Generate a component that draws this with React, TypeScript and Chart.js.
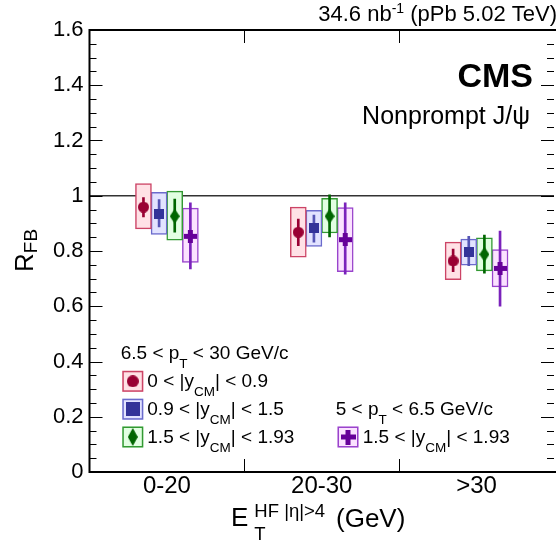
import React, { useEffect, useRef } from 'react';
import { Chart, registerables } from 'chart.js';

Chart.register(...registerables);

// ---------------- data ----------------
const categories = ['0-20', '20-30', '>30'];
const ptBinLabels = ['6.5 < p_{T} < 30 GeV/c', '5 < p_{T} < 6.5 GeV/c'];
const seriesLabels = [
  '0 < |y_{CM}| < 0.9',
  '0.9 < |y_{CM}| < 1.5',
  '1.5 < |y_{CM}| < 1.93',
  '1.5 < |y_{CM}| < 1.93',
];

// 6.5 < pT < 30, 0 < |y| < 0.9
const rfbY0 = [0.959, 0.868, 0.764];
const statLoY0 = [0.923, 0.819, 0.725];
const statHiY0 = [0.993, 0.916, 0.807];
const sysLoY0 = [0.88, 0.778, 0.696];
const sysHiY0 = [1.044, 0.959, 0.832];

// 6.5 < pT < 30, 0.9 < |y| < 1.5
const rfbY1 = [0.935, 0.882, 0.797];
const statLoY1 = [0.887, 0.832, 0.747];
const statHiY1 = [0.986, 0.93, 0.853];
const sysLoY1 = [0.86, 0.817, 0.749];
const sysHiY1 = [1.012, 0.947, 0.843];

// 6.5 < pT < 30, 1.5 < |y| < 1.93
const rfbY2 = [0.926, 0.926, 0.788];
const statLoY2 = [0.868, 0.851, 0.72];
const statHiY2 = [0.988, 1.003, 0.858];
const sysLoY2 = [0.839, 0.865, 0.728];
const sysHiY2 = [1.017, 0.991, 0.848];

// 5 < pT < 6.5, 1.5 < |y| < 1.93
const rfbY3 = [0.853, 0.841, 0.737];
const statLoY3 = [0.735, 0.716, 0.6];
const statHiY3 = [0.974, 0.974, 0.872];
const sysLoY3 = [0.759, 0.725, 0.67];
const sysHiY3 = [0.955, 0.957, 0.805];

const yMin = 0;
const yMax = 1.6;
const yStep = 0.2;
const refValue = 1;

// ---------------- styles ----------------
const FONT = '"Liberation Sans", Arial, Helvetica, sans-serif';
const markerKinds = ['circle', 'square', 'diamond', 'plus'];
const markerColors = ['#990033', '#333399', '#006600', '#660099'];
const boxFills = ['#ffe1e6', '#e2e3ff', '#e2ffe2', '#fbe2ff'];
const boxBorders = ['#cc4466', '#6b6bcc', '#339933', '#9944cc'];
const errColors = ['#990033', '#5555b5', '#006600', '#7a22bb'];
const seriesOffsets = [-1.5, -0.5, 0.5, 1.5];
const OFFSET_UNIT = 0.101;
const plotMarkerSizes: [number, number][] = [[11, 11], [10, 10], [10, 15], [13, 13]];
const legendMarkerSizes: [number, number][] = [[12, 12], [14, 14], [10, 18], [15, 15]];

function makeMarker(kind: string, color: string, w: number, h: number): HTMLCanvasElement {
  const c = document.createElement('canvas');
  c.width = w;
  c.height = h;
  const g = c.getContext('2d')!;
  g.fillStyle = color;
  if (kind === 'circle') {
    g.beginPath();
    g.arc(w / 2, h / 2, w / 2, 0, Math.PI * 2);
    g.fill();
  } else if (kind === 'square') {
    g.fillRect(0, 0, w, h);
  } else if (kind === 'diamond') {
    g.beginPath();
    g.moveTo(w / 2, 0);
    g.lineTo(w, h / 2);
    g.lineTo(w / 2, h);
    g.lineTo(0, h / 2);
    g.closePath();
    g.fill();
  } else {
    const t = Math.round(w * 0.36);
    g.fillRect((w - t) / 2, 0, t, h);
    g.fillRect(0, (h - t) / 2, w, t);
  }
  return c;
}

type Part = { t: string; kind: 'n' | 'sub' | 'sup' };
function parseRich(s: string): Part[] {
  const out: Part[] = [];
  let buf = '';
  let i = 0;
  while (i < s.length) {
    if ((s[i] === '_' || s[i] === '^') && s[i + 1] === '{') {
      if (buf) {
        out.push({ t: buf, kind: 'n' });
        buf = '';
      }
      const end = s.indexOf('}', i + 2);
      out.push({ t: s.slice(i + 2, end), kind: s[i] === '_' ? 'sub' : 'sup' });
      i = end + 1;
    } else {
      buf += s[i];
      i++;
    }
  }
  if (buf) out.push({ t: buf, kind: 'n' });
  return out;
}

type RichStyle = { size: number; scriptSize: number; subDy: number; supDy: number; bold?: boolean; scriptGap?: number };

function drawRich(ctx: CanvasRenderingContext2D, s: string, x: number, y: number, st: RichStyle, align: 'left' | 'right' = 'left') {
  const parts = parseRich(s);
  const font = (sz: number) => `${st.bold ? 'bold ' : ''}${sz}px ${FONT}`;
  let cx = 0;
  let prev: { start: number; width: number; kind: string } | null = null;
  const items: { t: string; kind: string; x: number; sz: number }[] = [];
  for (const p of parts) {
    const sz = p.kind === 'n' ? st.size : st.scriptSize;
    ctx.font = font(sz);
    const w = ctx.measureText(p.t).width;
    if (p.kind === 'n') {
      items.push({ t: p.t, kind: p.kind, x: cx, sz });
      cx += w;
      prev = null;
    } else if (prev && prev.kind !== p.kind) {
      items.push({ t: p.t, kind: p.kind, x: prev.start, sz });
      cx = prev.start + Math.max(prev.width, w);
      prev = null;
    } else {
      const start = cx + (st.scriptGap ?? 0);
      items.push({ t: p.t, kind: p.kind, x: start, sz });
      cx = start + w;
      prev = { start, width: w, kind: p.kind };
    }
  }
  const x0 = align === 'right' ? x - cx : x;
  ctx.textAlign = 'left';
  ctx.textBaseline = 'alphabetic';
  for (const it of items) {
    ctx.font = font(it.sz);
    const dy = it.kind === 'sub' ? st.subDy : it.kind === 'sup' ? st.supDy : 0;
    ctx.fillText(it.t, x0 + it.x, y + dy);
  }
  return cx;
}

export default function App() {
  const canvasRef = useRef<HTMLCanvasElement>(null);

  useEffect(() => {
    document.body.style.margin = '0';
    const canvas = canvasRef.current;
    if (!canvas) return;

    const series = [
      { val: rfbY0, statLo: statLoY0, statHi: statHiY0, sysLo: sysLoY0, sysHi: sysHiY0 },
      { val: rfbY1, statLo: statLoY1, statHi: statHiY1, sysLo: sysLoY1, sysHi: sysHiY1 },
      { val: rfbY2, statLo: statLoY2, statHi: statHiY2, sysLo: sysLoY2, sysHi: sysHiY2 },
      { val: rfbY3, statLo: statLoY3, statHi: statHiY3, sysLo: sysLoY3, sysHi: sysHiY3 },
    ];

    const plotMarkers = markerKinds.map((k, i) => makeMarker(k, markerColors[i], plotMarkerSizes[i][0], plotMarkerSizes[i][1]));
    const legendMarkers = markerKinds.map((k, i) => makeMarker(k, markerColors[i], legendMarkerSizes[i][0], legendMarkerSizes[i][1]));

    const datasets: any[] = [];
    series.forEach((s, si) => {
      const xs = categories.map((_, i) => i + seriesOffsets[si] * OFFSET_UNIT);
      datasets.push({
        type: 'bar',
        data: xs.map((x, i) => ({ x, y: [s.sysLo[i], s.sysHi[i]] })),
        backgroundColor: boxFills[si],
        borderColor: boxBorders[si],
        borderWidth: 1.5,
        borderSkipped: false,
        barThickness: 16,
        grouped: false,
        order: 3,
      });
      datasets.push({
        type: 'bar',
        data: xs.map((x, i) => ({ x, y: [s.statLo[i], s.statHi[i]] })),
        backgroundColor: errColors[si],
        borderWidth: 0,
        barThickness: 2,
        grouped: false,
        order: 2,
      });
      datasets.push({
        type: 'scatter',
        data: xs.map((x, i) => ({ x, y: s.val[i] })),
        pointStyle: plotMarkers[si],
        pointRadius: 5,
        order: 1,
      });
    });

    const overlay = {
      id: 'overlay',
      beforeDatasetsDraw(chart: any) {
        const ctx: CanvasRenderingContext2D = chart.ctx;
        const { left, right } = chart.chartArea;
        const y = chart.scales.y.getPixelForValue(refValue);
        ctx.save();
        ctx.strokeStyle = '#333';
        ctx.lineWidth = 1.5;
        ctx.beginPath();
        ctx.moveTo(left, y);
        ctx.lineTo(right, y);
        ctx.stroke();
        ctx.restore();
      },
      afterDraw(chart: any) {
        const ctx: CanvasRenderingContext2D = chart.ctx;
        const { left, right, top, bottom } = chart.chartArea;
        const ys = chart.scales.y;
        const xs = chart.scales.x;
        ctx.save();
        // ticks
        ctx.strokeStyle = '#000';
        ctx.lineWidth = 1;
        const nMinor = Math.round((yMax - yMin) / (yStep / 4));
        for (let i = 0; i <= nMinor; i++) {
          const v = yMin + (i * yStep) / 4;
          const py = Math.round(ys.getPixelForValue(v)) + 0.5;
          const len = i % 4 === 0 ? 13 : 7;
          ctx.beginPath();
          ctx.moveTo(left, py);
          ctx.lineTo(left + len, py);
          ctx.moveTo(right, py);
          ctx.lineTo(right - len, py);
          ctx.stroke();
        }
        for (let i = 0; i < categories.length - 1; i++) {
          const px = Math.round(xs.getPixelForValue(i + 0.5)) + 0.5;
          ctx.beginPath();
          ctx.moveTo(px, bottom);
          ctx.lineTo(px, bottom - 13);
          ctx.moveTo(px, top);
          ctx.lineTo(px, top + 13);
          ctx.stroke();
        }
        // frame
        ctx.lineWidth = 2;
        ctx.beginPath();
        ctx.moveTo(right + 2, top);
        ctx.lineTo(left, top);
        ctx.lineTo(left, bottom);
        ctx.lineTo(right + 2, bottom);
        ctx.stroke();

        ctx.fillStyle = '#000';
        // header
        drawRich(ctx, '34.6 nb^{-1} (pPb 5.02 TeV)', 557, 21, { size: 22, scriptSize: 14, subDy: 6, supDy: -8 }, 'right');
        // CMS
        drawRich(ctx, 'CMS', 533, 87, { size: 34, scriptSize: 20, subDy: 0, supDy: 0, bold: true }, 'right');
        drawRich(ctx, 'Nonprompt J/ψ', 530, 124, { size: 25, scriptSize: 16, subDy: 0, supDy: 0 }, 'right');

        // x title
        drawRich(ctx, 'E_{T}^{HF |η|>4}', 231, 526, { size: 26, scriptSize: 18.5, subDy: 14, supDy: -9, scriptGap: 6 });
        drawRich(ctx, '(GeV)', 336, 527, { size: 26, scriptSize: 17, subDy: 0, supDy: 0 });

        // y title
        ctx.save();
        ctx.translate(33, 272);
        ctx.rotate(-Math.PI / 2);
        drawRich(ctx, 'R_{FB}', 0, 0, { size: 26, scriptSize: 19, subDy: 4, supDy: -8 });
        ctx.restore();

        // legend
        const legStyle = { size: 19, scriptSize: 13.5, subDy: 9, supDy: -7 };
        ctx.fillStyle = '#000';
        drawRich(ctx, ptBinLabels[0], 120.7, 359.3, legStyle);
        drawRich(ctx, ptBinLabels[1], 335.7, 415, legStyle);
        const entries = [
          { si: 0, sx: 132.8, sy: 381.3, tx: 147.3, ty: 387.3 },
          { si: 1, sx: 132.8, sy: 409.2, tx: 147.3, ty: 415 },
          { si: 2, sx: 132.8, sy: 437, tx: 147.3, ty: 442.7 },
          { si: 3, sx: 348, sy: 437, tx: 362.7, ty: 442.7 },
        ];
        for (const e of entries) {
          const s = 21;
          ctx.fillStyle = boxFills[e.si];
          ctx.fillRect(e.sx - s / 2, e.sy - s / 2, s, s);
          ctx.strokeStyle = boxBorders[e.si];
          ctx.lineWidth = 1.5;
          ctx.strokeRect(e.sx - s / 2 + 0.75, e.sy - s / 2 + 0.75, s - 1.5, s - 1.5);
          const m = legendMarkers[e.si];
          ctx.drawImage(m, e.sx - m.width / 2, e.sy - m.height / 2);
          ctx.fillStyle = '#000';
          drawRich(ctx, seriesLabels[e.si], e.tx, e.ty, legStyle);
        }
        ctx.restore();
      },
    };

    const chart = new Chart(canvas, {
      type: 'bar',
      data: { datasets },
      options: {
        animation: false,
        responsive: true,
        maintainAspectRatio: false,
        layout: { padding: { top: 30, left: 0, right: 0, bottom: 0 } },
        plugins: { legend: { display: false }, tooltip: { enabled: false } },
        events: [],
        scales: {
          x: {
            type: 'linear',
            min: -0.5,
            max: categories.length - 0.5,
            offset: false,
            grid: { display: false, drawTicks: false },
            border: { display: false },
            afterBuildTicks: (scale: any) => {
              scale.ticks = categories.map((_, i) => ({ value: i }));
            },
            afterFit: (scale: any) => {
              scale.height = 77;
            },
            ticks: {
              autoSkip: false,
              maxRotation: 0,
              padding: 0,
              color: '#000',
              font: { family: FONT, size: 24 },
              callback: (v: any) => categories[Math.round(Number(v))] ?? '',
            },
          },
          y: {
            type: 'linear',
            min: yMin,
            max: yMax,
            grid: { display: false, drawTicks: false },
            border: { display: false },
            afterFit: (scale: any) => {
              scale.width = 89.5;
            },
            ticks: {
              stepSize: yStep,
              padding: 6,
              color: '#000',
              font: { family: FONT, size: 22 },
              callback: (v: any) => String(Math.round(Number(v) * 10) / 10),
            },
          },
        },
      } as any,
      plugins: [overlay],
    });

    return () => chart.destroy();
  }, []);

  return (
    <div style={{ position: 'fixed', left: 0, top: 0, width: 560, height: 549, background: '#fff' }}>
      <canvas ref={canvasRef} />
    </div>
  );
}
